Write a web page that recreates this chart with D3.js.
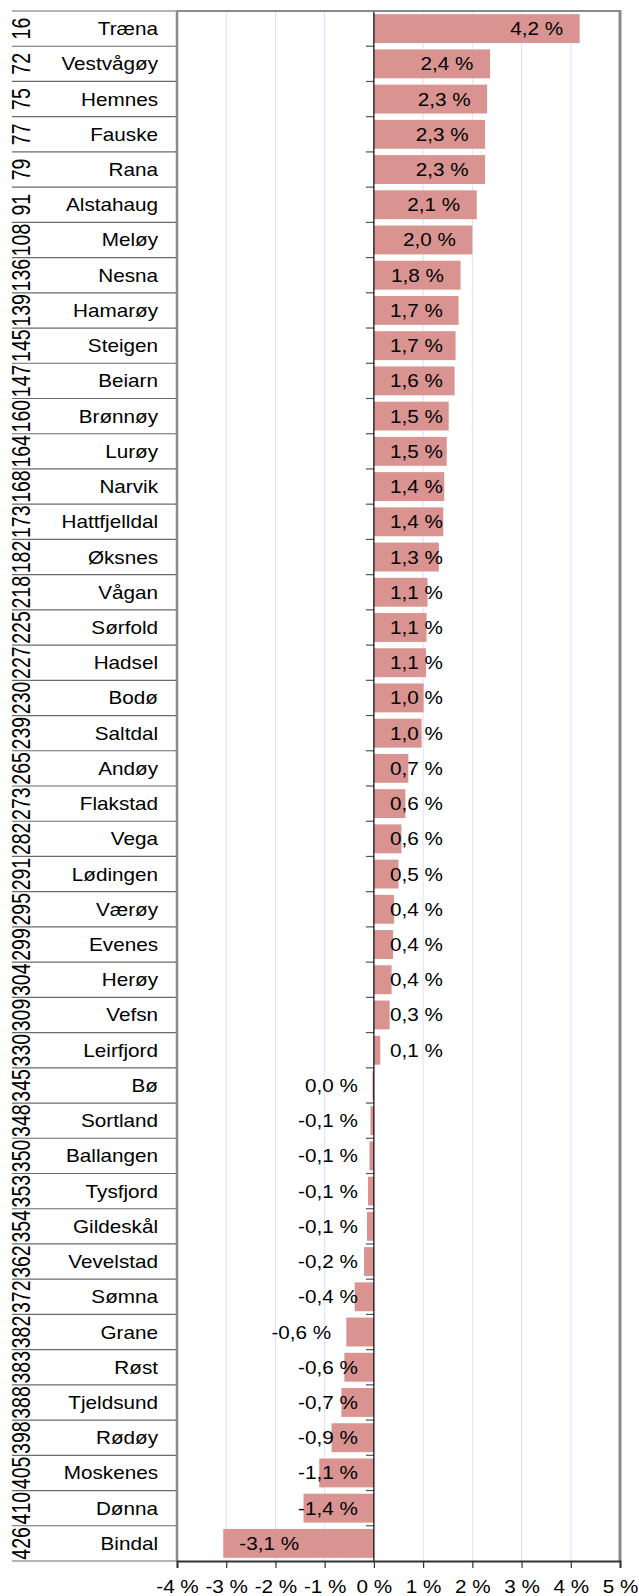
<!DOCTYPE html>
<html><head><meta charset="utf-8">
<script src="https://cdn.jsdelivr.net/npm/d3@7"></script>
<style>
body{margin:0;background:#fff}
svg text{font-family:"Liberation Sans",Arial,sans-serif;fill:#000}
</style>
</head><body>
<svg id="c" width="639" height="1596"></svg>
<script>
const ranks = [16,72,75,77,79,91,108,136,139,145,147,160,164,168,173,182,218,225,227,230,239,265,273,282,291,295,299,304,309,330,345,348,350,353,354,362,372,382,383,388,398,405,410,426];
const municipalities = ["Træna","Vestvågøy","Hemnes","Fauske","Rana","Alstahaug","Meløy","Nesna","Hamarøy","Steigen","Beiarn","Brønnøy","Lurøy","Narvik","Hattfjelldal","Øksnes","Vågan","Sørfold","Hadsel","Bodø","Saltdal","Andøy","Flakstad","Vega","Lødingen","Værøy","Evenes","Herøy","Vefsn","Leirfjord","Bø","Sortland","Ballangen","Tysfjord","Gildeskål","Vevelstad","Sømna","Grane","Røst","Tjeldsund","Rødøy","Moskenes","Dønna","Bindal"];
const changes = [4.18,2.36,2.30,2.26,2.26,2.09,2.00,1.76,1.72,1.66,1.64,1.52,1.48,1.43,1.41,1.32,1.09,1.07,1.06,1.01,0.97,0.70,0.64,0.56,0.50,0.41,0.39,0.36,0.32,0.13,-0.03,-0.07,-0.09,-0.12,-0.14,-0.2,-0.39,-0.56,-0.6,-0.66,-0.86,-1.11,-1.43,-3.06];
const xTicks = [-4,-3,-2,-1,0,1,2,3,4,5];
const outsideLabels = ["Grane"];

const data = municipalities.map((m,i)=>({name:m, rank:ranks[i], value:changes[i]}));
const svg = d3.select("#c");
const SX = 1.15;   // horizontal text stretch of the original picture
const FS = 18;
const P = {left:177, right:620, top:11, bottom:1561, tableLeft:12};

const x = d3.scaleLinear().domain([-4,5]).range([P.left,P.right]);
const y = d3.scaleBand().domain(municipalities).range([P.top,P.bottom]).paddingInner(0.18).paddingOuter(0.09);
const step = y.step(), off = (step - y.bandwidth())/2;
const boundaries = municipalities.map(m=>y(m)-off).concat([P.bottom]);

const fmt = v => {
  let s = d3.format(".1f")(v).replace("−","-");
  if (s === "-0.0") s = "0.0";
  return s.replace(".",",") + " %";
};

// grid lines
svg.append("g").selectAll("line").data(xTicks.filter(t=>t!==0 && t!==-4 && t!==5)).join("line")
  .attr("x1",d=>x(d)).attr("x2",d=>x(d)).attr("y1",P.top).attr("y2",P.bottom)
  .attr("stroke","#dedeff").attr("stroke-width",1);

// table row lines
svg.append("g").selectAll("line").data(boundaries).join("line")
  .attr("x1",P.tableLeft).attr("x2",P.left).attr("y1",d=>d).attr("y2",d=>d)
  .attr("stroke","#6a6a6a").attr("stroke-width",1.2);

// bars
svg.append("g").selectAll("rect").data(data).join("rect")
  .attr("x",d=>x(Math.min(0,d.value))).attr("width",d=>Math.abs(x(d.value)-x(0)))
  .attr("y",d=>y(d.name)).attr("height",y.bandwidth())
  .attr("fill","#d99492");

// zero line ticks at row boundaries
svg.append("g").selectAll("line").data(boundaries.slice(1,-1)).join("line")
  .attr("x1",x(0)-8).attr("x2",x(0)).attr("y1",d=>d).attr("y2",d=>d)
  .attr("stroke","#555").attr("stroke-width",1.2);
svg.append("line").attr("x1",x(0)).attr("x2",x(0)).attr("y1",P.top).attr("y2",P.bottom)
  .attr("stroke","#000").attr("stroke-width",1.2);

// frame
svg.append("line").attr("x1",P.left).attr("x2",P.right).attr("y1",P.top).attr("y2",P.top).attr("stroke","#8a8a8a").attr("stroke-width",2);
svg.append("line").attr("x1",P.left).attr("x2",P.left).attr("y1",P.top).attr("y2",P.bottom).attr("stroke","#8a8a8a").attr("stroke-width",2.5);
svg.append("line").attr("x1",P.right).attr("x2",P.right).attr("y1",P.top-1).attr("y2",P.bottom).attr("stroke","#8a8a8a").attr("stroke-width",3);

// bottom axis
const ax = svg.append("g").attr("transform",`translate(0,${P.bottom})`)
  .call(d3.axisBottom(x).tickValues(xTicks).tickSize(7).tickPadding(12).tickFormat(d=>d+" %"));
ax.select(".domain").attr("stroke","#333").attr("stroke-width",2);
ax.selectAll(".tick line").attr("stroke","#333").attr("stroke-width",1.2);
ax.selectAll(".tick text").attr("font-size",FS).attr("font-family",'"Liberation Sans",Arial,sans-serif')
  .attr("transform",`scale(${SX},1)`).attr("fill","#000");

// category labels
svg.append("g").selectAll("text").data(data).join("text")
  .attr("transform",d=>`translate(158,${y(d.name)+y.bandwidth()/2}) scale(${SX},1)`)
  .attr("text-anchor","end").attr("dy","0.36em").attr("font-size",FS).text(d=>d.name);

// rank numbers (rotated)
svg.append("g").selectAll("text").data(data).join("text")
  .attr("transform",d=>`translate(21,${y(d.name)+y.bandwidth()/2}) scale(1.3,1) rotate(-90)`)
  .attr("text-anchor","middle").attr("dy","0.36em").attr("font-size",19.5).text(d=>d.rank);

// value labels
const lab = svg.append("g").selectAll("text").data(data).join("text")
  .attr("font-size",FS).attr("dy","0.36em").text(d=>fmt(d.value));
lab.each(function(d){
  const w = this.getComputedTextLength()*SX;
  const cy = y(d.name)+y.bandwidth()/2;
  let left;
  if (outsideLabels.includes(d.name)) {
    left = x(d.value) - 15 - w;
  } else if (d.value >= 0) {
    const right = Math.max(x(d.value) - 16.5, x(0) + 16 + w);
    left = right - w;
  } else {
    left = Math.min(x(d.value) + 16, x(0) - 16 - w);
  }
  d3.select(this).attr("transform",`translate(${left},${cy}) scale(${SX},1)`);
});
</script>
</body></html>
